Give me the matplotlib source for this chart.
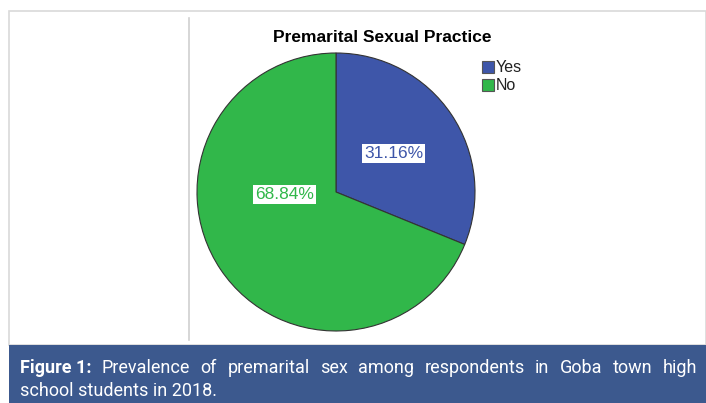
import matplotlib
matplotlib.use('Agg')
import matplotlib.pyplot as plt
from matplotlib.patches import Rectangle

labels = ['Yes', 'No']
values = [31.16, 68.84]
colors = ['#3e56a9', '#31b74a']
title = 'Premarital Sexual Practice'
caption_bold = 'Figure 1:'
caption_line1 = 'Prevalence of premarital sex among respondents in Goba town high'
caption_line2 = 'school students in 2018.'

W, H = 706, 403
fig = plt.figure(figsize=(W / 100, H / 100), dpi=100)
fig.patch.set_facecolor('white')

def fx(px):
    return px / W

def fy(py):
    return 1 - py / H

# frame and caption box
fig.add_artist(Rectangle((fx(9), fy(345)), fx(706) - fx(9), fy(11) - fy(345),
                         transform=fig.transFigure, fill=False, edgecolor='#d9d9d9', lw=1.2))
fig.add_artist(plt.Line2D([fx(189), fx(189)], [fy(18), fy(340)], transform=fig.transFigure,
                          color='#d0d0d0', lw=1.2))
fig.add_artist(Rectangle((fx(9), 0), 1 - fx(9), fy(345), transform=fig.transFigure,
                         facecolor='#3c598e', edgecolor='none'))

# pie
cx, cy, r = 336, 192, 139
ax = fig.add_axes([fx(cx - r), fy(cy + r), 2 * r / W, 2 * r / H])
wedges, texts, autotexts = ax.pie(values, colors=colors, startangle=90, counterclock=False,
                                  autopct='%.2f%%', pctdistance=0.5,
                                  wedgeprops=dict(edgecolor='#333333', linewidth=0.8))
ax.set_xlim(-1, 1)
ax.set_ylim(-1, 1)
ax.set_aspect('auto')
ax.axis('off')
for t, c in zip(autotexts, colors):
    t.set_color(c)
    t.set_fontsize(12.5)
    t.set_fontfamily('Liberation Sans')
    t.set_bbox(dict(facecolor='white', edgecolor='none', pad=1.5))
autotexts[1].set_position((-0.37, -0.02))

fig.text(fx(382), fy(38), title, ha='center', va='center', fontsize=12.5,
         fontweight='bold', family='Liberation Sans')

# legend
lx = 482
for i, (lab, c) in enumerate(zip(labels, colors)):
    y = 67 + i * 18
    fig.add_artist(Rectangle((fx(lx), fy(y + 6)), 12 / W, 12 / H, transform=fig.transFigure,
                             facecolor=c, edgecolor='#555555', lw=0.8))
    fig.text(fx(lx + 14), fy(y), lab, ha='left', va='center', fontsize=11.5,
             family='Liberation Sans', color='#222222')

# caption, first line justified
renderer = fig.canvas.get_renderer()
x0, x1 = 20, 697
fs = 13
words = [(caption_bold, 'bold')] + [(w, 'normal') for w in caption_line1.split()]
arts = []
for w, wt in words:
    t = fig.text(0, fy(368), w, ha='left', va='center', fontsize=fs, fontweight=wt,
                 family='Roboto', color='white')
    arts.append(t)
widths = [a.get_window_extent(renderer).width for a in arts]
gap = (x1 - x0 - sum(widths)) / (len(arts) - 1)
x = x0
for a, w in zip(arts, widths):
    a.set_x(fx(x))
    x += w + gap
fig.text(fx(x0), fy(391), caption_line2, ha='left', va='center', fontsize=fs,
         family='Roboto', color='white')

fig.savefig('out.png', dpi=100)
